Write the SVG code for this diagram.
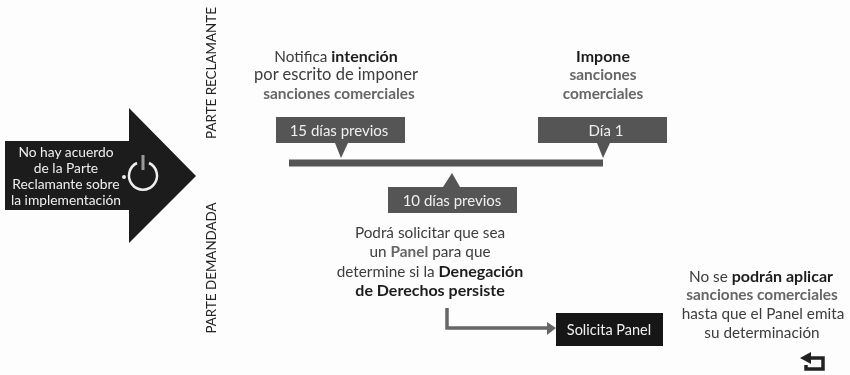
<svg xmlns="http://www.w3.org/2000/svg" width="850" height="375" viewBox="0 0 850 375">
<defs><filter id="soft" x="-2%" y="-2%" width="104%" height="104%"><feGaussianBlur stdDeviation="0.6"/></filter></defs>
<style>
text{font-family:"Lato","Open Sans","Liberation Sans",sans-serif;font-size:15.3px;fill:#3c3c3c;text-anchor:middle}
.b{font-weight:700;fill:#1e1e1e;font-size:16px}.g{font-weight:700;fill:#666;font-size:15.4px}
.w{fill:#efefef}
.a{font-size:13.8px}
.t{font-size:15px}
.p{font-size:14.5px}
.v{font-size:13.4px;fill:#222}
.box{fill:#555}
</style>
<rect width="850" height="375" fill="#fdfdfd"/>
<g filter="url(#soft)">
<g id="arrow"><path d="M5 141H129V108L196 176L129 243V210H5Z" fill="#1c1c1c"/>
<text class="w a" x="66" y="157">No hay acuerdo</text><text class="w a" x="66" y="173">de la Parte</text><text class="w a" x="66" y="189">Reclamante sobre</text><text class="w a" x="66" y="205">la implementación</text>
<path d="M137 163A14 14 0 1 0 149 163" fill="none" stroke="#eee" stroke-width="2.5"/><path d="M143 155V170" stroke="#999" stroke-width="3"/><circle cx="124" cy="177" r="2" fill="#eee"/></g>
<g id="parte-reclamante"><text class="v" transform="translate(216 73) rotate(-90)">PARTE RECLAMANTE</text></g>
<g id="parte-demandada"><text class="v" transform="translate(216 268) rotate(-90)">PARTE DEMANDADA</text></g>
<g id="notifica"><text x="336" y="62">Notifica <tspan class="b">intención</tspan></text><text x="336" y="80" style="font-size:16.5px">por escrito de imponer</text><text class="g" x="339" y="99">sanciones comerciales</text></g>
<g id="impone"><text class="b" x="603" y="62">Impone</text><text class="g" x="603" y="80">sanciones</text><text class="g" x="603" y="99">comerciales</text></g>
<g id="d15"><path class="box" d="M276 117H405V143H348L341 158L335 143H276Z"/><text class="w t" x="339" y="136">15 días previos</text></g>
<g id="d1"><path class="box" d="M538 117H667V143H610L603 158L597 143H538Z"/><text class="w t" x="606" y="136">Día 1</text></g>
<g id="d10"><path class="box" d="M388 187H443L452 173L460 187H517V213H388Z"/><text class="w t" x="452" y="206">10 días previos</text></g>
<g id="podra"><text x="430" y="238">Podrá solicitar que sea</text><text x="430" y="257">un <tspan class="g">Panel</tspan> para que</text><text x="430" y="277">determine si la <tspan class="b">Denegación</tspan></text><text class="b" x="430" y="296">de Derechos persiste</text></g>
<g id="panel"><rect x="556" y="313" width="107" height="33" fill="#181818"/><text class="w p" x="609" y="335">Solicita Panel</text></g>
<g id="nose"><text x="761" y="282">No se <tspan class="b">podrán aplicar</tspan></text><text class="g" x="762" y="300">sanciones comerciales</text><text x="763" y="319">hasta que el Panel emita</text><text x="762" y="338">su determinación</text></g>
<g id="back"><path d="M808 358H823V369H806V365" fill="none" stroke="#222" stroke-width="3.5"/><path d="M800 358L811 352V364Z" fill="#222"/></g>
<g id="connectors"><path d="M289 163H603" stroke="#555" stroke-width="7" fill="none"/><path d="M447 308V328H549" stroke="#666" stroke-width="3.5" fill="none"/><path d="M547 322L556 328L547 335Z" fill="#666"/></g>
</g>
</svg>
